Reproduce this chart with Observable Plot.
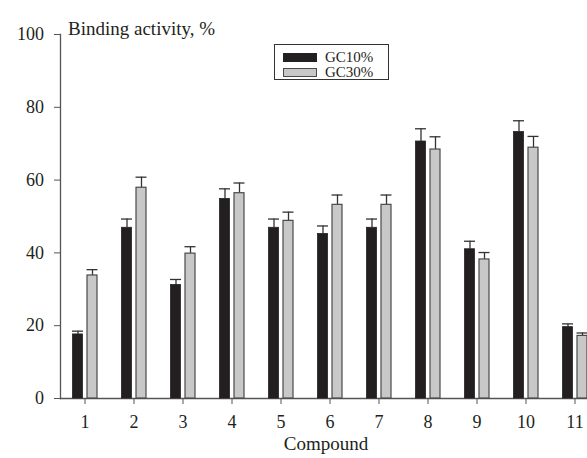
<!DOCTYPE html>
<html>
<head>
<meta charset="utf-8">
<script src="https://cdn.jsdelivr.net/npm/d3@7"></script>
<script src="https://cdn.jsdelivr.net/npm/@observablehq/plot@0.6"></script>
<style>
  html, body { margin: 0; padding: 0; background: #fff; overflow: hidden; }
  #wrap { position: relative; width: 587px; height: 458px; }
  #wrap svg, #wrap svg text { font-family: "Liberation Serif", "Times New Roman", serif; }
  #legend { position: absolute; left: 274px; top: 44px; width: 115px; height: 36px;
            border: 1px solid #333; background: #fff; box-sizing: border-box;
            font-family: "Liberation Serif", "Times New Roman", serif; font-size: 15px; color: #231f20; }
  .row { position: absolute; left: 8px; height: 15px; display: flex; align-items: center; }
  .sw { width: 34px; height: 8.5px; box-sizing: border-box; margin-right: 8px; }
</style>
</head>
<body>
<div id="wrap"></div>
<script>
const compounds = [1, 2, 3, 4, 5, 6, 7, 8, 9, 10, 11];
const seriesNames = ["GC10%", "GC30%"];
const gc10 = [17.6, 46.9, 31.2, 54.8, 46.9, 45.2, 46.9, 70.6, 41.0, 73.2, 19.6];
const gc10Err = [0.9, 2.4, 1.5, 2.8, 2.4, 2.2, 2.4, 3.5, 2.2, 3.1, 0.9];
const gc30 = [33.8, 57.9, 39.8, 56.4, 48.8, 53.2, 53.2, 68.4, 38.2, 68.9, 17.2];
const gc30Err = [1.6, 2.9, 1.9, 2.8, 2.4, 2.7, 2.7, 3.5, 1.9, 3.1, 0.8];
const yTicks = [0, 20, 40, 60, 80, 100];
const colors = ["#231f20", "#c8c8c8"];

const d10 = compounds.map((c, i) => ({compound: c, value: gc10[i], err: gc10Err[i]}));
const d30 = compounds.map((c, i) => ({compound: c, value: gc30[i], err: gc30Err[i]}));

const ink = "#231f20";
const axisInk = "#555";
const serif = '"Liberation Serif", "Times New Roman", serif';

const plot = Plot.plot({
  width: 587,
  height: 458,
  marginLeft: 60,
  marginRight: -12,
  marginTop: 34,
  marginBottom: 60,
  style: {fontFamily: serif, fontSize: "18px", color: ink, background: "#fff", overflow: "visible"},
  x: {type: "band", domain: compounds, padding: 0},
  y: {domain: [0, 100]},
  marks: [
    Plot.frame({anchor: "left", stroke: axisInk, strokeWidth: 1.3}),
    Plot.frame({anchor: "bottom", stroke: axisInk, strokeWidth: 1.3}),
    Plot.axisY({ticks: yTicks, tickSize: 6, tickPadding: 10.5, label: null, stroke: axisInk, fill: ink, fontSize: 18, fontFamily: serif}),
    Plot.axisX({tickSize: 6, tickPadding: 10.5, label: null, stroke: axisInk, fill: ink, fontSize: 18, fontFamily: serif}),
    Plot.ruleX(d10, {x: "compound", y1: "value", y2: d => d.value + d.err, dx: -7, stroke: "#333", strokeWidth: 1.3}),
    Plot.tickY(d10, {x: "compound", y: d => d.value + d.err, insetLeft: 12, insetRight: 26, stroke: "#333", strokeWidth: 1.3}),
    Plot.ruleX(d30, {x: "compound", y1: "value", y2: d => d.value + d.err, dx: 7.5, stroke: "#333", strokeWidth: 1.3}),
    Plot.tickY(d30, {x: "compound", y: d => d.value + d.err, insetLeft: 26.5, insetRight: 11.5, stroke: "#333", strokeWidth: 1.3}),
    Plot.barY(d10, {x: "compound", y: "value", insetLeft: 12.5, insetRight: 26.5, fill: colors[0], stroke: "#222", strokeWidth: 0.8}),
    Plot.barY(d30, {x: "compound", y: "value", insetLeft: 27, insetRight: 12, fill: colors[1], stroke: "#4a4a4a", strokeWidth: 1.2}),
    Plot.text(["Binding activity, %"], {frameAnchor: "top-left", textAnchor: "start", dx: 7.5, dy: -13.3, fontSize: 19, fontFamily: serif, fill: ink}),
    Plot.text(["Compound"], {frameAnchor: "bottom", dx: -4, dy: 51, fontSize: 19, fontFamily: serif, fill: ink})
  ]
});

const wrap = document.getElementById("wrap");
wrap.appendChild(plot);

const legend = document.createElement("div");
legend.id = "legend";
seriesNames.forEach((name, i) => {
  const row = document.createElement("div");
  row.className = "row";
  row.style.top = (i === 0 ? 5 : 20) + "px";
  const sw = document.createElement("div");
  sw.className = "sw";
  sw.style.background = colors[i];
  sw.style.border = i === 0 ? "1px solid #222" : "1.2px solid #4a4a4a";
  const t = document.createElement("span");
  t.textContent = name;
  row.appendChild(sw);
  row.appendChild(t);
  legend.appendChild(row);
});
wrap.appendChild(legend);
</script>
</body>
</html>
